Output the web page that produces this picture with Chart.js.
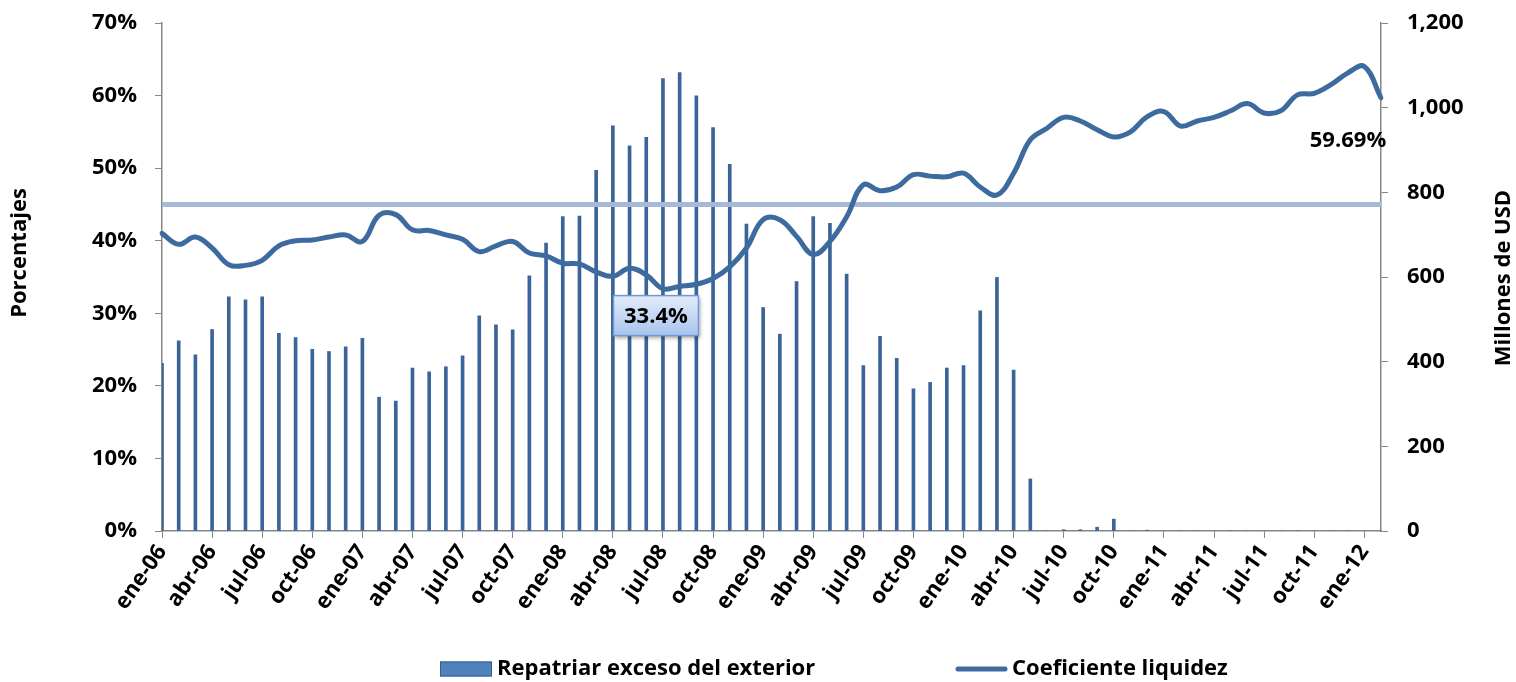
<!DOCTYPE html>
<html lang="es">
<head>
<meta charset="UTF-8" />
<title>Coeficiente de liquidez y repatriación</title>
<script src="https://cdn.jsdelivr.net/npm/chart.js"></script>
<style>
    body { margin: 0; background: #ffffff; }
    .chart-box { width: 1516px; height: 682px; position: relative; }
</style>
</head>
<body>
<div class="chart-box">
    <canvas id="liquidezChart"></canvas>
</div>
<script>
    // Meses y años de la serie (ene-06 a feb-12)
    const meses = ['ene', 'feb', 'mar', 'abr', 'may', 'jun', 'jul', 'ago', 'sep', 'oct', 'nov', 'dic'];
    const anios = ['06', '07', '08', '09', '10', '11', '12'];
    const categorias = [];
    anios.forEach((a) => meses.forEach((m) => categorias.push(m + '-' + a)));
    categorias.length = 74;

    // Repatriar exceso del exterior (millones de USD, eje derecho)
    const repatriar = [
        396, 449, 416, 476, 553, 546, 553, 467, 457, 429, 424, 435,
        455, 316, 307, 385, 376, 388, 414, 508, 487, 475, 603, 680,
        743, 744, 852, 957, 910, 930, 1069, 1083, 1028, 953, 866, 725,
        528, 465, 589, 743, 727, 607, 391, 460, 408, 336, 351, 385,
        391, 520, 599, 380, 123, 0, 3, 3, 9, 28, 0, 2,
        0, 0, 0, 0, 0, 0, 0, 0, 0, 0, 0, 0,
        0, 0
    ];

    // Coeficiente liquidez (%, eje izquierdo)
    const coeficiente = [
        41.0, 39.5, 40.5, 39.0, 36.7, 36.6, 37.3, 39.3, 40.0, 40.1, 40.5, 40.8,
        39.9, 43.5, 43.6, 41.5, 41.4, 40.8, 40.2, 38.5, 39.3, 39.9, 38.3, 37.9,
        36.9, 36.8, 35.7, 35.1, 36.2, 35.3, 33.4, 33.7, 34.0, 34.8, 36.4, 39.0,
        42.9, 42.9, 40.6, 38.1, 39.9, 43.3, 47.7, 46.9, 47.4, 49.1, 48.9, 48.8,
        49.3, 47.4, 46.3, 49.3, 53.9, 55.5, 57.0, 56.5, 55.3, 54.3, 55.0, 57.1,
        57.8, 55.8, 56.5, 57.0, 57.9, 58.9, 57.6, 57.9, 60.1, 60.3, 61.5, 63.1,
        64.0, 59.69
    ];

    // Nivel de referencia (línea horizontal)
    const umbral = 45;

    const ticksPct = { min: 0, max: 70, step: 10 };
    const ticksUsd = { min: 0, max: 1200, step: 200 };

    const gris = '#868686';
    const azulLinea = '#3E6B9F';
    const azulBarra = '#3B6498';
    const fuente = "'Open Sans', sans-serif";

    Chart.defaults.font.family = fuente;
    Chart.defaults.font.size = 22;
    Chart.defaults.font.weight = 'bold';
    Chart.defaults.color = '#000000';

    // Títulos de ejes, línea de referencia, etiquetas y leyenda
    const extras = {
        id: 'extras',
        beforeDatasetDraw(chart, args) {
            if (args.index !== 1) return;
            const ctx = chart.ctx;
            const y = chart.scales.y.getPixelForValue(umbral);
            ctx.save();
            ctx.strokeStyle = '#A6B9D9';
            ctx.lineWidth = 5;
            ctx.beginPath();
            ctx.moveTo(chart.chartArea.left, y);
            ctx.lineTo(chart.chartArea.right, y);
            ctx.stroke();
            ctx.restore();
        },
        afterDatasetsDraw(chart) {
            const ctx = chart.ctx;
            const xs = chart.scales.x;
            const ys = chart.scales.y;

            // mínimo de la serie
            let iMin = 0;
            coeficiente.forEach((v, i) => { if (v < coeficiente[iMin]) iMin = i; });
            const px = xs.getPixelForValue(iMin);
            const py = ys.getPixelForValue(coeficiente[iMin]);
            const bw = 85, bh = 40;
            const bx = px - 7 - bw / 2, by = py + 7;
            ctx.save();
            ctx.shadowColor = 'rgba(0,0,0,0.35)';
            ctx.shadowBlur = 4;
            ctx.shadowOffsetX = 2;
            ctx.shadowOffsetY = 2;
            const grad = ctx.createLinearGradient(0, by, 0, by + bh);
            grad.addColorStop(0, '#E4ECFA');
            grad.addColorStop(1, '#A8C4EE');
            ctx.fillStyle = grad;
            ctx.fillRect(bx, by, bw, bh);
            ctx.shadowColor = 'transparent';
            ctx.strokeStyle = '#7098D6';
            ctx.lineWidth = 1.5;
            ctx.strokeRect(bx, by, bw, bh);
            ctx.fillStyle = '#000';
            ctx.font = 'bold 22px ' + fuente;
            ctx.textAlign = 'center';
            ctx.textBaseline = 'middle';
            ctx.fillText(coeficiente[iMin].toFixed(1) + '%', bx + bw / 2, by + bh / 2 + 1);

            // último valor
            const last = coeficiente.length - 1;
            const lx = xs.getPixelForValue(last);
            const ly = ys.getPixelForValue(coeficiente[last]);
            ctx.fillText(coeficiente[last].toFixed(2) + '%', lx - 33, ly + 43);
            ctx.restore();
        },
        afterDraw(chart) {
            const ctx = chart.ctx;
            const area = chart.chartArea;
            const midY = (area.top + area.bottom) / 2;
            ctx.save();
            ctx.fillStyle = '#000';
            ctx.font = 'bold 22px ' + fuente;
            ctx.textAlign = 'center';
            ctx.textBaseline = 'middle';
            ctx.translate(20, midY - 24);
            ctx.rotate(-Math.PI / 2);
            ctx.fillText('Porcentajes', 0, 0);
            ctx.restore();

            ctx.save();
            ctx.fillStyle = '#000';
            ctx.font = 'bold 22px ' + fuente;
            ctx.textAlign = 'center';
            ctx.textBaseline = 'middle';
            ctx.translate(1504, midY + 1);
            ctx.rotate(-Math.PI / 2);
            ctx.fillText('Millones de USD', 0, 0);
            ctx.restore();

            // leyenda
            const ds = chart.data.datasets;
            const ly = 669;
            ctx.save();
            ctx.font = 'bold 22px ' + fuente;
            ctx.textBaseline = 'middle';
            ctx.textAlign = 'left';
            ctx.fillStyle = '#4F81BD';
            ctx.fillRect(440, ly - 7.5, 52, 15);
            ctx.strokeStyle = '#385D8A';
            ctx.lineWidth = 1;
            ctx.strokeRect(440.5, ly - 7, 51, 14);
            ctx.fillStyle = '#000';
            ctx.fillText(ds[0].label, 497, ly);

            ctx.strokeStyle = azulLinea;
            ctx.lineWidth = 5;
            ctx.lineCap = 'round';
            ctx.beginPath();
            ctx.moveTo(958, ly);
            ctx.lineTo(1005, ly);
            ctx.stroke();
            ctx.fillText(ds[1].label, 1012, ly);
            ctx.restore();
        }
    };

    // anchos fijos de ejes y sin relleno automático
    const fijarEje = (ancho) => (s) => {
        s.width = ancho;
        s.paddingTop = 0;
        s.paddingBottom = 0;
    };

    const ctx = document.getElementById('liquidezChart').getContext('2d');
    const liquidezChart = new Chart(ctx, {
        type: 'bar',
        data: {
            labels: categorias,
            datasets: [
                {
                    type: 'bar',
                    label: 'Repatriar exceso del exterior',
                    data: repatriar,
                    yAxisID: 'y1',
                    backgroundColor: azulBarra,
                    barThickness: 3,
                    order: 1,
                },
                {
                    type: 'line',
                    label: 'Coeficiente liquidez',
                    data: coeficiente,
                    yAxisID: 'y',
                    borderColor: azulLinea,
                    borderWidth: 5,
                    borderCapStyle: 'round',
                    borderJoinStyle: 'round',
                    pointRadius: 0,
                    tension: 0.4,
                    order: 0,
                },
            ],
        },
        options: {
            responsive: true,
            maintainAspectRatio: false,
            animation: false,
            layout: { padding: { top: 23, left: 0, right: 0, bottom: 0 } },
            plugins: {
                legend: { display: false },
                tooltip: { enabled: false },
            },
            scales: {
                x: {
                    offset: false,
                    grid: {
                        offset: false,
                        drawOnChartArea: false,
                        tickLength: 7,
                        color: (c) => (c.index % 3 === 0 ? gris : 'rgba(0,0,0,0)'),
                    },
                    border: { color: gris, width: 1.5 },
                    ticks: {
                        autoSkip: false,
                        minRotation: 55,
                        maxRotation: 55,
                        padding: 2,
                        callback: (v, i) => (i % 3 === 0 ? categorias[i] : ''),
                    },
                    afterFit: (s) => {
                        s.height = 151;
                        s.paddingLeft = 0;
                        s.paddingRight = 0;
                    },
                },
                y: {
                    position: 'left',
                    min: ticksPct.min,
                    max: ticksPct.max,
                    grid: { drawOnChartArea: false, tickLength: 7, color: gris },
                    border: { color: gris, width: 1.5 },
                    ticks: {
                        stepSize: ticksPct.step,
                        padding: 18,
                        callback: (v) => v + '%',
                    },
                    afterFit: fijarEje(162),
                },
                y1: {
                    position: 'right',
                    min: ticksUsd.min,
                    max: ticksUsd.max,
                    grid: { drawOnChartArea: false, tickLength: 7, color: gris },
                    border: { color: gris, width: 1.5 },
                    ticks: {
                        stepSize: ticksUsd.step,
                        padding: 19,
                        callback: (v) => v.toLocaleString('en-US'),
                    },
                    afterFit: fijarEje(135),
                },
            },
        },
        plugins: [extras],
    });
</script>
</body>
</html>
